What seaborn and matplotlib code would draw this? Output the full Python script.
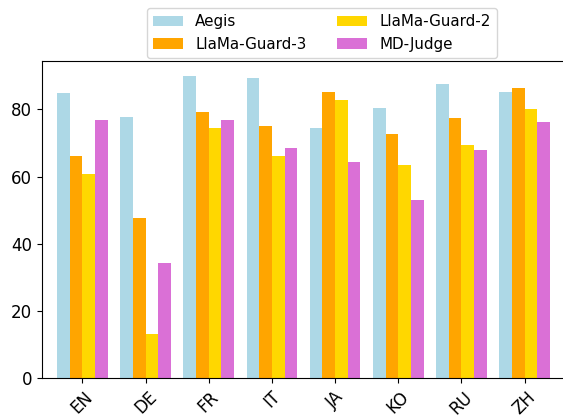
import matplotlib
matplotlib.use("Agg")
import matplotlib.pyplot as plt
import seaborn as sns
import pandas as pd

languages = ["EN", "DE", "FR", "IT", "JA", "KO", "RU", "ZH"]
models = ["Aegis", "LlaMa-Guard-3", "LlaMa-Guard-2", "MD-Judge"]
aegis = [85.0, 77.6, 90.0, 89.2, 74.3, 80.3, 87.6, 85.3]
llama_guard_3 = [66.0, 47.6, 79.3, 75.1, 85.3, 72.8, 77.3, 86.5]
llama_guard_2 = [60.7, 13.0, 74.3, 66.0, 82.8, 63.5, 69.3, 80.1]
md_judge = [76.8, 34.1, 76.8, 68.4, 64.4, 52.9, 68.0, 76.1]
colors = ["lightblue", "orange", "gold", "orchid"]

series = [aegis, llama_guard_3, llama_guard_2, md_judge]
rows = []
for m, vals in zip(models, series):
    for lang, v in zip(languages, vals):
        rows.append({"Language": lang, "Model": m, "Score": v})
df = pd.DataFrame(rows)

W, H = 563, 416
fig = plt.figure(figsize=(W / 100, H / 100), dpi=100)
left, right, top, bottom = 42, 565, 61, 378
ax = fig.add_axes([left / W, (H - bottom) / H, (right - left) / W, (bottom - top) / H])

sns.barplot(data=df, x="Language", y="Score", hue="Model", order=languages,
            hue_order=models, palette=colors, saturation=1, ax=ax, errorbar=None,
            width=0.8)

ax.set_xlim(-0.64, 7.64)
ax.set_ylim(0, 94.4)
ax.set_xlabel("")
ax.set_ylabel("")
ax.set_yticks([0, 20, 40, 60, 80])
ax.tick_params(axis="both", labelsize=12)
plt.setp(ax.get_xticklabels(), rotation=45)
for s in ax.spines.values():
    s.set_visible(True)

handles, labels = ax.get_legend_handles_labels()
ax.legend(handles, labels, loc="upper center", bbox_to_anchor=(0.535, 1.19),
          ncol=2, fontsize=10.9, frameon=True)

fig.savefig("out.png", dpi=100)
